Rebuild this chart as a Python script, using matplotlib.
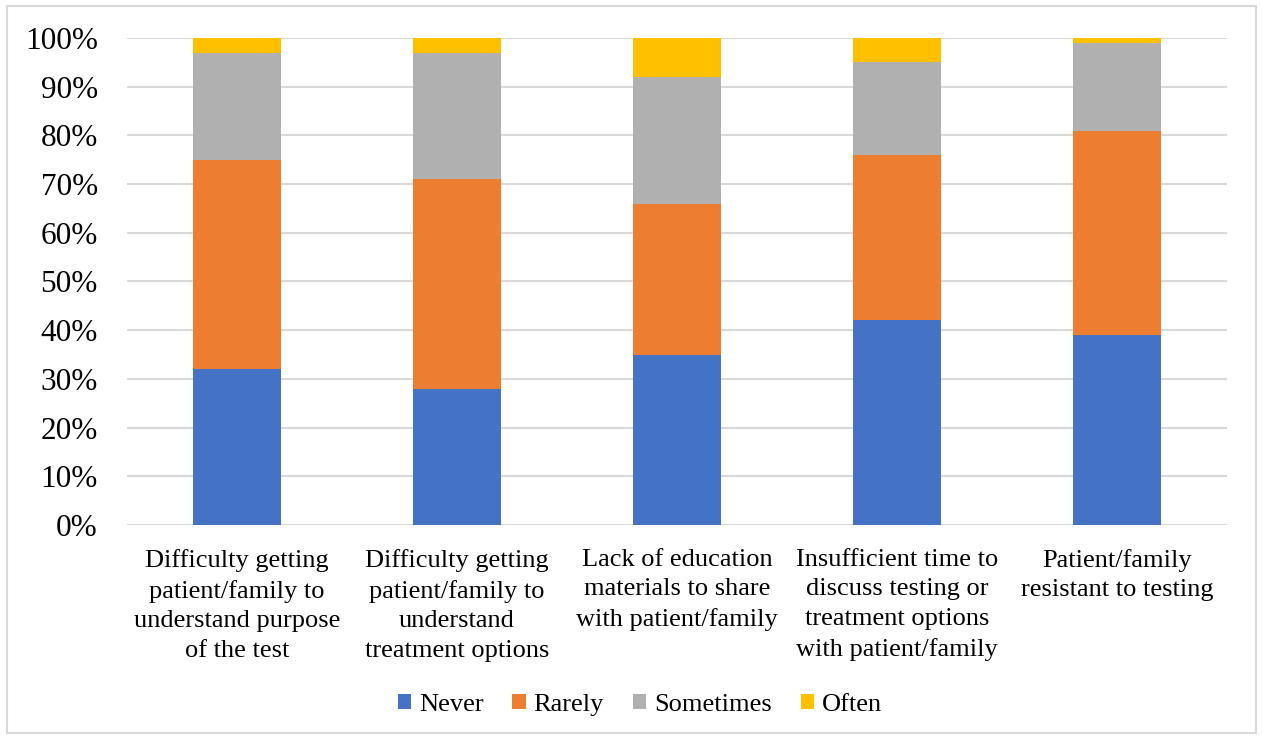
import matplotlib
matplotlib.use("Agg")
import matplotlib.pyplot as plt
import numpy as np

categories = [
    "Difficulty getting\npatient/family to\nunderstand purpose\nof the test",
    "Difficulty getting\npatient/family to\nunderstand\ntreatment options",
    "Lack of education\nmaterials to share\nwith patient/family",
    "Insufficient time to\ndiscuss testing or\ntreatment options\nwith patient/family",
    "Patient/family\nresistant to testing",
]
never = [32, 28, 35, 42, 39]
rarely = [43, 43, 31, 34, 42]
sometimes = [22, 26, 26, 19, 18]
often = [3, 3, 8, 5, 1]
series_names = ["Never", "Rarely", "Sometimes", "Often"]
colors = ["#4472C4", "#ED7D31", "#B0B0B0", "#FFC000"]

plt.rcParams['font.family'] = ['Liberation Serif', 'DejaVu Serif']

fig = plt.figure(figsize=(12.62, 7.39), dpi=100)
ax = fig.add_axes([0.1006, 0.2896, 0.8717, 0.659])

x = np.arange(len(categories))
bottom = np.zeros(len(categories))
for name, vals, c in zip(series_names, [never, rarely, sometimes, often], colors):
    v = np.array(vals, dtype=float)
    ax.bar(x, v, 0.4, bottom=bottom, color=c, label=name, zorder=3)
    bottom += v

ax.set_ylim(0, 100)
ax.set_xlim(-0.5, len(categories) - 0.5)
ax.set_yticks(np.arange(0, 101, 10))
ax.set_yticklabels([f"{v}%" for v in range(0, 101, 10)], fontsize=22.5)
ax.set_xticks(x)
ax.set_xticklabels(categories, fontsize=19, linespacing=1.45)
ax.tick_params(axis='both', length=0, colors='#000000')
ax.tick_params(axis='y', pad=21)
ax.tick_params(axis='x', pad=17)
ax.grid(axis='y', color='#D9D9D9', linewidth=1.5, zorder=0)
for s in ax.spines.values():
    s.set_visible(False)

leg = fig.legend(loc='center', bbox_to_anchor=(0.507, 0.046), ncol=4, frameon=False,
                 fontsize=19, handlelength=0.5, handleheight=0.5, handletextpad=0.3,
                 columnspacing=1.1)

border = plt.Rectangle((0.0055, 0.008), 0.99, 0.984, transform=fig.transFigure,
                       fill=False, edgecolor='#D9D9D9', linewidth=1.5)
fig.patches.append(border)

fig.savefig("out.png", dpi=100)
